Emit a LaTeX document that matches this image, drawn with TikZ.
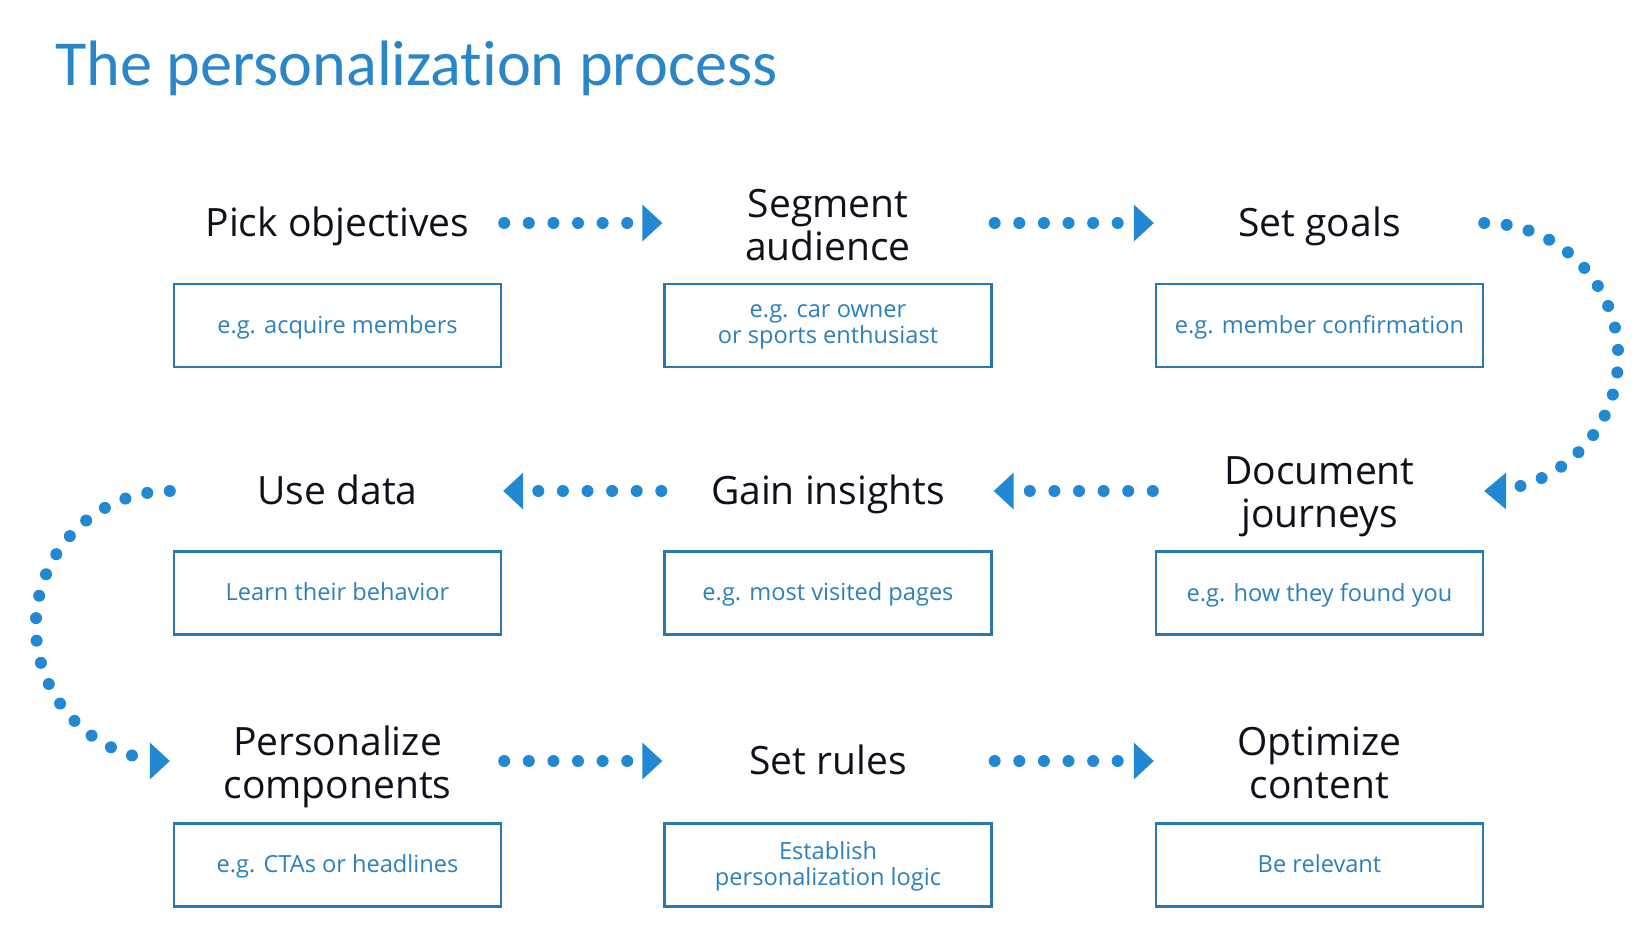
\documentclass[tikz,border=0pt]{standalone}
\usepackage{fontspec}
\setmainfont{Open Sans}
\newfontfamily\titlefont[Ligatures={NoCommon}]{Carlito}
\usetikzlibrary{calc}
\definecolor{titlec}{HTML}{2B86C8}
\definecolor{headc}{HTML}{10101C}
\definecolor{subc}{HTML}{2C80BC}
\definecolor{boxc}{HTML}{2A78B0}
\definecolor{dotc}{HTML}{2288D2}
\begin{document}
\begin{tikzpicture}[x=1pt,y=1pt,
  head/.style={font=\fontsize{39}{43}\selectfont, text=headc, align=center, inner sep=0pt, text depth=2pt},
  head2/.style={head, yshift=-2.5pt},
  sub/.style={draw=boxc, line width=2.4pt, minimum width=327pt, minimum height=83pt, inner sep=0pt,
    font=\fontsize{23.6}{26}\selectfont, text=subc, align=center, text depth=2pt},
  dots/.style={draw=dotc, line width=12pt, line cap=round, dash pattern=on 0pt off 24.6pt},
  arcdots/.style={draw=dotc, line width=12pt, line cap=round, dash pattern=on 0pt off 22.6pt},
  tri/.style={fill=dotc}]
\useasboundingbox (0,0) rectangle (1652,-943);
\fill[white] (0,0) rectangle (1652,-943);
\node[anchor=base west, font=\titlefont\fontsize{64.2}{70}\selectfont, text=titlec, inner sep=0pt] (title) at (55,-85) {The personalization process};

% boxes
\node[sub] (b1) at (337.5,-325.5) {e.g. acquire members};
\node[sub] (b2) at (828,-325.5) {e.g. car owner\\or sports enthusiast};
\node[sub] (b3) at (1319.5,-325.5) {e.g. member confirmation};
\node[sub] (b4) at (1319.5,-593) {e.g. how they found you};
\node[sub] (b5) at (828,-593) {e.g. most visited pages};
\node[sub] (b6) at (337.5,-593) {Learn their behavior};
\node[sub] (b7) at (337.5,-865) {e.g. CTAs or headlines};
\node[sub] (b8) at (828,-865) {Establish\\personalization logic};
\node[sub] (b9) at (1319.5,-865) {Be relevant};

% headings
\node[head] (h1) at (337.5,-223) {Pick objectives};
\node[head2] (h2) at (828,-223) {Segment\\audience};
\node[head] (h3) at (1319.5,-223) {Set goals};
\node[head2] (h4) at (1319.5,-491) {Document\\journeys};
\node[head] (h5) at (828,-491) {Gain insights};
\node[head] (h6) at (337.5,-491) {Use data};
\node[head2] (h7) at (337.5,-761) {Personalize\\components};
\node[head] (h8) at (828,-761) {Set rules};
\node[head2] (h9) at (1319.5,-761) {Optimize\\content};

% row 1 arrows
\draw[dots] ($(b1.east |- h1)+(2,0)$) -- ($(b2.west |- h1)+(-36,0)$);
\fill[tri] ($(b2.west |- h1)+(-1,0)$) -- ++(-20,18.5) -- ++(0,-37) -- cycle;
\draw[dots] ($(b2.east |- h1)+(2,0)$) -- ($(b3.west |- h3)+(-36,0)$);
\fill[tri] ($(b3.west |- h3)+(-1,0)$) -- ++(-20,18.5) -- ++(0,-37) -- cycle;

% right curve
\draw[arcdots] (b3.east |- h3) arc[start angle=90, end angle=-75, x radius=134pt, y radius=134pt];
\fill[tri] (b4.east |- h5) -- ++(22,18.5) -- ++(0,-37) -- cycle;

% row 2 arrows
\draw[dots] ($(b4.west |- h5)+(-2,0)$) -- ($(b5.east |- h5)+(36,0)$);
\fill[tri] ($(b5.east |- h5)+(1,0)$) -- ++(20,18.5) -- ++(0,-37) -- cycle;
\draw[dots] ($(b5.west |- h5)+(-2,0)$) -- ($(b6.east |- h6)+(36,0)$);
\fill[tri] ($(b6.east |- h6)+(1,0)$) -- ++(20,18.5) -- ++(0,-37) -- cycle;

% left curve
\draw[arcdots] ($(b6.west |- h6)+(-3,0)$) arc[start angle=90, end angle=255, x radius=134pt, y radius=135pt];
\fill[tri] ($(b7.west |- h8)+(-3,0)$) -- ++(-20,18.5) -- ++(0,-37) -- cycle;

% row 3 arrows
\draw[dots] ($(b7.east |- h8)+(2,0)$) -- ($(b8.west |- h8)+(-36,0)$);
\fill[tri] ($(b8.west |- h8)+(-1,0)$) -- ++(-20,18.5) -- ++(0,-37) -- cycle;
\draw[dots] ($(b8.east |- h8)+(2,0)$) -- ($(b9.west |- h8)+(-36,0)$);
\fill[tri] ($(b9.west |- h8)+(-1,0)$) -- ++(-20,18.5) -- ++(0,-37) -- cycle;
\end{tikzpicture}
\end{document}
